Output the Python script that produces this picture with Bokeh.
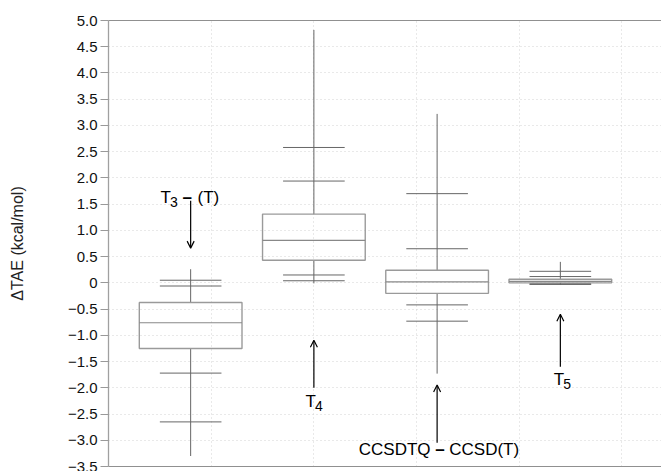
from bokeh.plotting import figure
from bokeh.models import FixedTicker, LinearAxis, Range1d, Arrow, OpenHead
from bokeh.core.properties import value
from bokeh.embed import file_html
from bokeh.resources import INLINE

# ---- data ----
labels = ["T3 – (T)", "T4", "CCSDTQ – CCSD(T)", "T5"]
mins   = [-3.30, -0.01, -1.73, -0.04]
p_lo2  = [-2.65, 0.04, -0.73, -0.03]
p_lo1  = [-1.72, 0.15, -0.42, -0.02]
q1     = [-1.25, 0.43, -0.20, 0.00]
median = [-0.76, 0.81, 0.02, 0.03]
q3     = [-0.375, 1.31, 0.24, 0.07]
p_hi1  = [-0.06, 1.94, 0.65, 0.12]
p_hi2  = [0.05, 2.58, 1.70, 0.22]
maxs   = [0.26, 4.82, 3.22, 0.40]

y_ticks = [5.0, 4.5, 4.0, 3.5, 3.0, 2.5, 2.0, 1.5, 1.0, 0.5, 0.0,
           -0.5, -1.0, -1.5, -2.0, -2.5, -3.0, -3.5]
y_tick_labels = ["5.0", "4.5", "4.0", "3.5", "3.0", "2.5", "2.0", "1.5", "1.0", "0.5", "0",
                 "−0.5", "−1.0", "−1.5", "−2.0", "−2.5", "−3.0", "−3.5"]

FONT = "Liberation Sans"

# layout positions
xs = [0.8 + 1.2 * i for i in range(len(labels))]
BW = 0.5   # half box width
CW = 0.3   # half cap width

p = figure(width=661, height=471, output_backend="svg", toolbar_location=None,
           x_range=Range1d(0, 5.385), y_range=Range1d(-3.5, 5.0),
           min_border_left=108, min_border_right=0, min_border_top=20, min_border_bottom=5)
p.outline_line_color = None
p.background_fill_color = "white"

# y axis
ya = p.yaxis[0]
ya.ticker = FixedTicker(ticks=y_ticks)
ya.major_label_overrides = {t: l for t, l in zip(y_ticks, y_tick_labels)}
ya.minor_tick_line_color = None
ya.major_tick_out = 8
ya.major_tick_in = 0
ya.major_tick_line_color = "#999999"
ya.axis_line_color = "#a0a0a0"
ya.axis_line_width = 1.3
ya.major_label_standoff = 3
ya.major_label_text_font = FONT
ya.major_label_text_font_size = "15px"
ya.major_label_text_color = "#111111"
ya.axis_label = "ΔTAE (kcal/mol)"
ya.axis_label_text_font = FONT
ya.axis_label_text_font_style = "normal"
ya.axis_label_text_font_size = "16px"
ya.axis_label_text_color = "#222222"
ya.axis_label_standoff = 39

# x axes (lines only)
xa = p.xaxis[0]
xa.ticker = FixedTicker(ticks=[])
xa.major_tick_out = 0
xa.major_tick_in = 0
xa.minor_tick_line_color = None
xa.major_label_standoff = 0
xa.axis_line_color = "#909090"
xa.axis_line_width = 1.2
top = LinearAxis(ticker=FixedTicker(ticks=[]), major_tick_out=0, major_tick_in=0,
                 minor_tick_line_color=None, major_label_standoff=0,
                 axis_line_color="#909090", axis_line_width=1.2)
p.add_layout(top, "above")

# grids
p.xgrid.ticker = FixedTicker(ticks=[1, 2, 3, 4, 5])
p.ygrid.ticker = FixedTicker(ticks=y_ticks)
for g in (p.xgrid, p.ygrid):
    g.grid_line_color = "#d2d2d2"
    g.grid_line_dash = "1 3"
    g.grid_line_width = 1

# whiskers
p.segment(x0=xs, y0=mins, x1=xs, y1=q1, line_color="#666666", line_width=1)
p.segment(x0=xs, y0=q3, x1=xs, y1=maxs, line_color="#666666", line_width=1)

# boxes
p.quad(left=[x - BW for x in xs], right=[x + BW for x in xs], bottom=q1, top=q3,
       fill_color=None, line_color="#9a9a9a", line_width=1.4)
p.segment(x0=[x - BW for x in xs], y0=median, x1=[x + BW for x in xs], y1=median,
          line_color="#888888", line_width=1.2)

# caps
for arr in (p_lo2, p_lo1, p_hi1, p_hi2):
    p.segment(x0=[x - CW for x in xs], y0=arr, x1=[x + CW for x in xs], y1=arr,
              line_color="#666666", line_width=1)

# annotations
def arrow(x, y0, y1):
    p.add_layout(Arrow(end=OpenHead(size=7, line_width=1.2, line_color="black"),
                       x_start=x, y_start=y0, x_end=x, y_end=y1,
                       line_color="black", line_width=1.2))

def txt(x, y, s, size="17px", dx=0, dy=0, style="normal"):
    p.text(x=[x], y=[y], text=[s], x_offset=dx, y_offset=dy,
           text_font=value(FONT), text_font_size=size, text_font_style=style,
           text_baseline="alphabetic", text_align="left", text_color="black")

# T3 – (T)
txt(0.507, 1.628, "T")
txt(0.507, 1.628, "3", size="14px", dx=9.5, dy=4.5)
txt(0.507, 1.628, "–", dx=22, style="bold")
txt(0.507, 1.628, "(T)", dx=37)
arrow(xs[0], 1.565, 0.662)

# T4
txt(1.918, -2.265, "T")
txt(1.918, -2.265, "4", size="14px", dx=9.5, dy=4.5)
arrow(xs[1], -2.0, -1.095)

# CCSDTQ – CCSD(T)
txt(2.437, -3.174, "CCSDTQ")
txt(2.437, -3.174, "–", dx=76.5, style="bold")
txt(2.437, -3.174, "CCSD(T)", dx=90.5)
arrow(xs[2], -3.047, -1.947)

# T5
txt(4.336, -1.851, "T")
txt(4.336, -1.851, "5", size="14px", dx=9.5, dy=4.5)
arrow(xs[3], -1.597, -0.597)

open("out.html", "w").write(file_html(p, INLINE))
